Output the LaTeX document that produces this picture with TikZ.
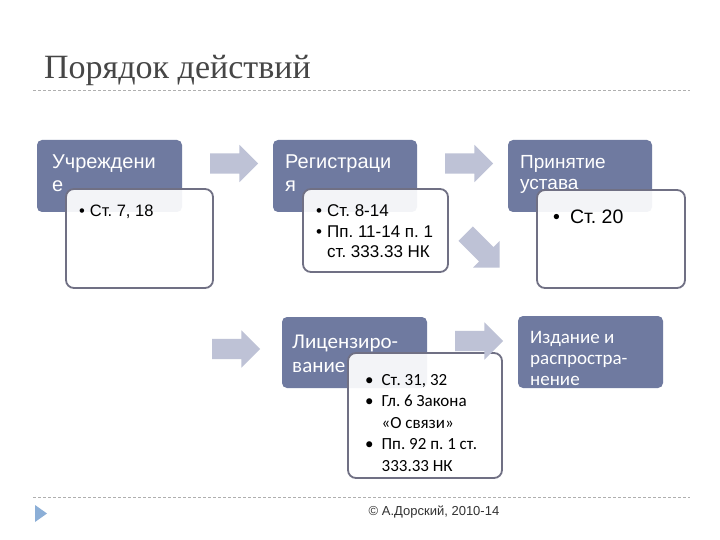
\documentclass[tikz,border=0pt]{standalone}
\usepackage{fontspec}
\setmainfont{Liberation Serif}
\newfontfamily\arialf{Liberation Sans}
\newfontfamily\calibf{Carlito}
\usetikzlibrary{shapes.arrows}
\definecolor{stepblue}{RGB}{111,122,160}
\definecolor{notegray}{RGB}{112,112,132}
\definecolor{arrowgray}{RGB}{190,194,214}
\definecolor{titlegray}{RGB}{70,70,70}
\definecolor{rulegray}{RGB}{175,175,175}
\definecolor{markblue}{RGB}{140,175,215}
\newcommand{\boxlines}[1]{\begin{tabular}[t]{@{}l@{}}#1\end{tabular}}
\newcommand{\bulletlines}[2]{\begin{tabular}[t]{@{}l@{\hspace{#1}}l@{}}#2\end{tabular}}
\frenchspacing

\begin{document}
\begin{tikzpicture}[x=1pt, y=-1pt,
  stepbox/.style={fill=stepblue, rounded corners=5pt, inner sep=0pt},
  notebox/.style={draw=notegray, line width=1.8pt, fill=white, fill opacity=0.92, rounded corners=8pt, inner sep=0pt},
  steptext/.style={anchor=base west, inner sep=0pt, text=white, font=\arialf\fontsize{20}{23}\selectfont},
  notetext/.style={anchor=base west, inner sep=0pt, text=black, font=\arialf\fontsize{17}{20.5}\selectfont},
  flow/.style={single arrow, fill=arrowgray, inner sep=0pt, text height=10pt, text depth=10pt,
    single arrow head extend=8.5pt, single arrow head indent=0pt, minimum height=48pt},
  rule/.style={draw=rulegray, line width=0.9pt, dash pattern=on 3pt off 2pt}]
  \useasboundingbox[fill=white] (0,0) rectangle (720,540);
  \node[anchor=base west, inner sep=0pt, text=titlegray, font=\fontsize{34}{40}\selectfont] (title) at (44,79) {Порядок действий};
  \coordinate (tl) at (33,90);
  \coordinate (tr) at (690,90);
  \draw[rule] (tl) -- (tr);
  \node[stepbox, minimum width=145pt, minimum height=72pt] (s1) at (109.5,176) {};
  \node[stepbox, minimum width=144pt, minimum height=72pt] (s2) at (345,176) {};
  \node[stepbox, minimum width=144pt, minimum height=72pt] (s3) at (580,176) {};
  \node[stepbox, minimum width=145pt, minimum height=71pt] (s4) at (354.5,352.5) {};
  \node[stepbox, minimum width=145pt, minimum height=72pt] (s5) at (590.5,352) {};
  \node[steptext] (s1t) at (52,169) {\boxlines{Учреждени\\е}};
  \node[steptext] (s2t) at (285,169) {\boxlines{Регистраци\\я}};
  \node[steptext, font=\arialf\fontsize{19}{21}\selectfont] (s3t) at (520,169) {\boxlines{Принятие\\устава}};
  \node[steptext, font=\calibf\fontsize{21}{24}\selectfont] (s4t) at (292,348) {\boxlines{Лицензиро-\\вание}};
  \node[steptext, font=\calibf\fontsize{19}{21}\selectfont] (s5t) at (530,343) {\boxlines{Издание и\\распростра-\\нение}};
  \node[notebox, minimum width=147pt, minimum height=99pt] (n1) at (139.5,238.5) {};
  \node[notebox, minimum width=145pt, minimum height=83pt] (n2) at (375.5,230.5) {};
  \node[notebox, minimum width=148pt, minimum height=98pt] (n3) at (611,239) {};
  \node[notebox, minimum width=154pt, minimum height=125pt] (n4) at (425,415.5) {};
  \node[notetext, font=\arialf\fontsize{16.5}{19}\selectfont] (n1t) at (79,217) {\bulletlines{5pt}{• & Ст. 7, 18}};
  \node[notetext] (n2t) at (316,217) {\bulletlines{5pt}{• & Ст. 8-14\\• & Пп. 11-14 п. 1\\ & ст. 333.33 НК}};
  \node[notetext, font=\arialf\fontsize{19.5}{23}\selectfont] (n3t) at (553,223) {\bulletlines{10pt}{• & Ст. 20}};
  \node[notetext, font=\calibf\fontsize{17}{21.5}\selectfont] (n4t) at (365,385) {\bulletlines{8pt}{• & Ст. 31, 32\\• & Гл. 6 Закона\\ & «О связи»\\• & Пп. 92 п. 1 ст.\\ & 333.33 НК}};
  \node[flow] (a1) at (229,163.5) {};
  \node[flow] (a2) at (464,163.5) {};
  \node[flow, rotate=-45] (a3) at (479,247) {};
  \node[flow] (a4) at (231,349) {};
  \node[flow] (a5) at (474,341) {};
  \coordinate (bl) at (33,497);
  \coordinate (br) at (690,497);
  \draw[rule] (bl) -- (br);
  \fill[markblue] (35,505) -- (47,513.5) -- (35,522) -- cycle;
  \node[inner sep=0pt, text={rgb,255:red,50;green,50;blue,50}, font=\arialf\fontsize{13}{15}\selectfont] (copy) at (434,512) {© А.Дорский, 2010-14};
\end{tikzpicture}
\end{document}
